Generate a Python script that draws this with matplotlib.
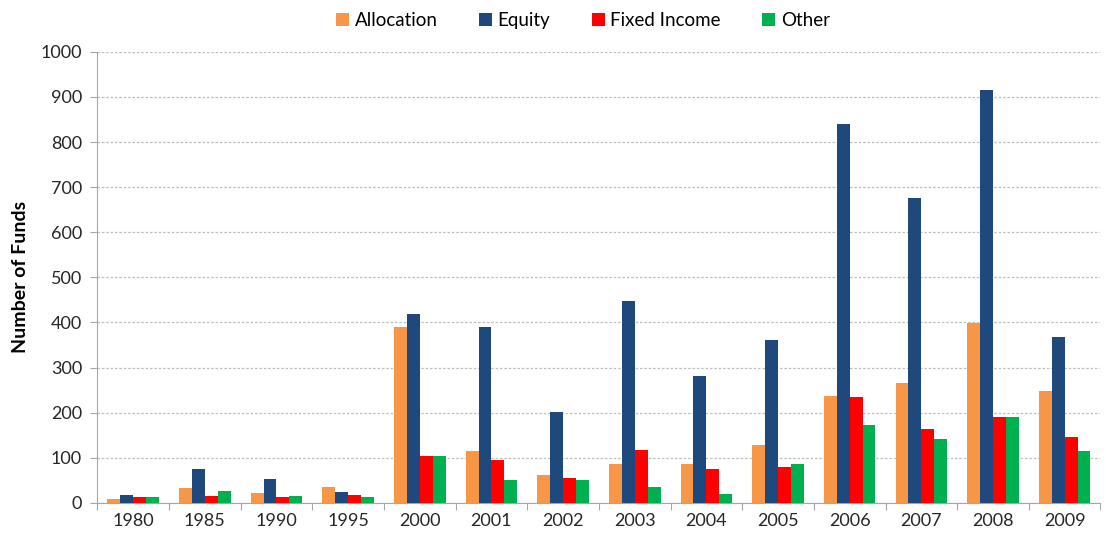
import numpy as np
import matplotlib.pyplot as plt

plt.rcParams['font.family'] = ['Lato', 'DejaVu Sans']

years = ['1980', '1985', '1990', '1995', '2000', '2001', '2002', '2003',
         '2004', '2005', '2006', '2007', '2008', '2009']
allocation = [9, 33, 22, 35, 391, 115, 61, 86, 86, 129, 238, 266, 399, 248]
equity = [18, 76, 53, 24, 418, 391, 202, 447, 281, 361, 840, 676, 916, 367]
fixed_income = [13, 15, 14, 17, 105, 95, 56, 117, 75, 79, 234, 163, 190, 147]
other = [13, 27, 15, 13, 103, 50, 50, 36, 19, 87, 173, 141, 190, 115]

series = [('Allocation', allocation, '#F79646'),
          ('Equity', equity, '#1F497D'),
          ('Fixed Income', fixed_income, '#FF0000'),
          ('Other', other, '#00B050')]

fig = plt.figure(figsize=(11.06, 5.46), dpi=100)
ax = fig.add_axes([0.088, 0.079, 0.907, 0.826])

x = np.arange(len(years))
w = 0.18
for i, (name, vals, col) in enumerate(series):
    ax.bar(x + (i - 1.5) * w, vals, w, color=col, label=name, zorder=3)

ax.set_xlim(-0.5, len(years) - 0.5)
ax.set_ylim(0, 1000)
ax.set_yticks(np.arange(0, 1001, 100))
ax.yaxis.grid(True, linestyle=(0, (2, 1.5)), color='#BFBFBF', linewidth=0.9, zorder=0)

# category ticks at boundaries, labels at centres
ax.set_xticks(np.arange(-0.5, len(years), 1.0))
ax.set_xticklabels([])
ax.set_xticks(x, minor=True)
ax.set_xticklabels(years, minor=True)
ax.tick_params(axis='x', which='major', length=5, color='#A6A6A6', direction='out')
ax.tick_params(axis='x', which='minor', length=0, labelsize=13, pad=7, labelcolor='#262626')
ax.tick_params(axis='y', length=5, color='#A6A6A6', labelsize=13, pad=6, labelcolor='#262626')

for s in ['top', 'right']:
    ax.spines[s].set_visible(False)
for s in ['left', 'bottom']:
    ax.spines[s].set_color('#A6A6A6')

ax.set_ylabel('Number of Funds', fontsize=14, fontweight='bold', labelpad=8)

ax.legend(loc='upper center', bbox_to_anchor=(0.484, 1.125), ncol=4, frameon=False,
          fontsize=13.5, handlelength=0.7, handleheight=0.7, handletextpad=0.3,
          columnspacing=2.2)

fig.savefig('out.png', dpi=100)
